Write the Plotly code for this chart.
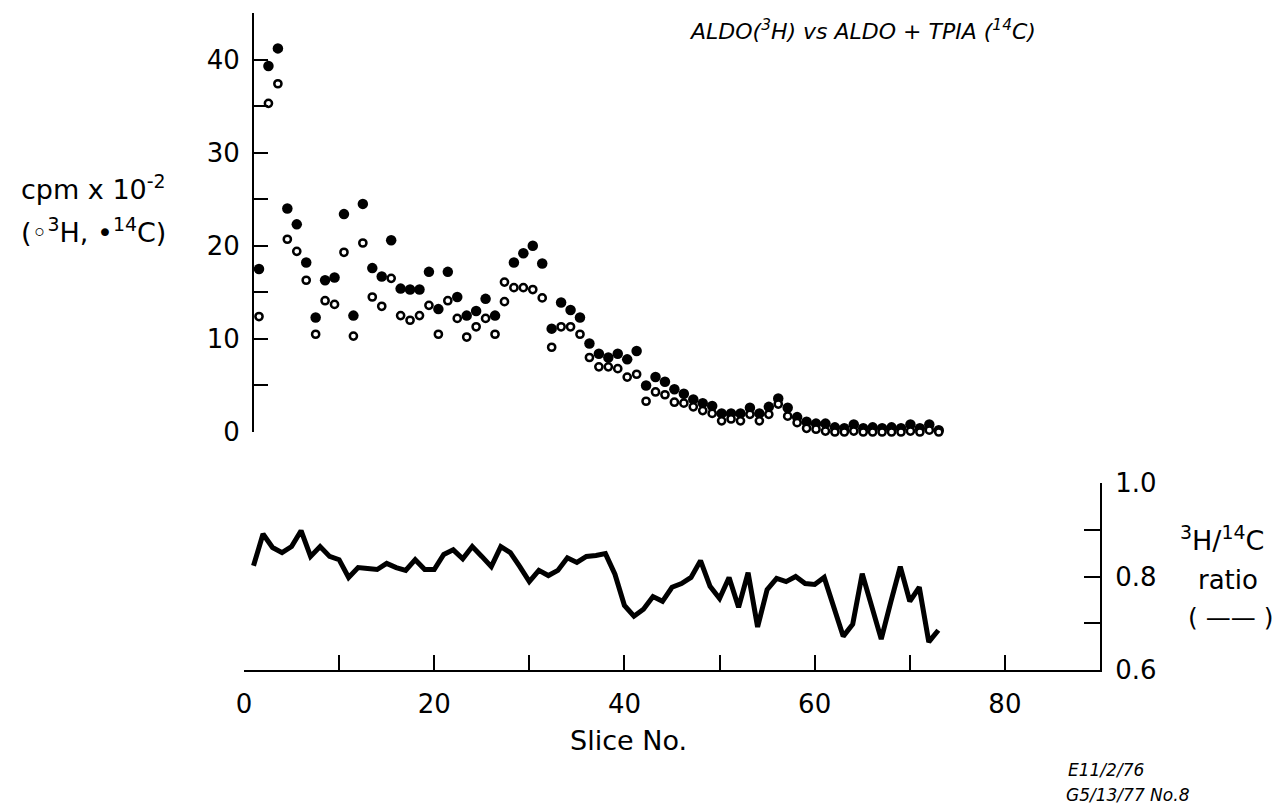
import plotly.graph_objects as go

# Slice numbers and counts (cpm x 10^-2)
slices = list(range(1, 74))

h3_cpm = [12.4, 35.3, 37.4, 20.7, 19.4, 16.3, 10.5, 14.1, 13.7, 19.3,
          10.3, 20.3, 14.5, 13.5, 16.5, 12.5, 12.0, 12.5, 13.6, 10.5,
          14.1, 12.2, 10.2, 11.3, 12.2, 10.5, 14.0, 15.5, 15.5, 15.3,
          14.4, 9.1, 11.3, 11.3, 10.5, 8.0, 7.0, 7.0, 6.8, 5.9,
          6.2, 3.3, 4.3, 4.0, 3.2, 3.1, 2.7, 2.3, 2.0, 1.2,
          1.4, 1.2, 1.9, 1.2, 1.9, 3.0, 1.7, 1.0, 0.4, 0.3,
          0.1, 0.0, 0.0, 0.1, 0.0, 0.0, 0.0, 0.0, 0.0, 0.1,
          0.0, 0.2, 0.0]

c14_cpm = [17.5, 39.3, 41.2, 24.0, 22.3, 18.2, 12.3, 16.3, 16.6, 23.4,
           12.5, 24.5, 17.6, 16.7, 20.6, 15.4, 15.3, 15.3, 17.2, 13.2,
           17.2, 14.5, 12.5, 13.0, 14.3, 12.5, 16.1, 18.2, 19.2, 20.0,
           18.1, 11.1, 13.9, 13.1, 12.3, 9.5, 8.4, 8.0, 8.4, 7.8,
           8.7, 5.0, 5.9, 5.4, 4.6, 4.1, 3.5, 3.1, 2.8, 2.0,
           2.0, 2.0, 2.6, 2.0, 2.7, 3.6, 2.6, 1.6, 1.1, 0.9,
           0.9, 0.5, 0.4, 0.8, 0.4, 0.5, 0.4, 0.5, 0.4, 0.8,
           0.4, 0.8, 0.2]

ratio = [0.823, 0.891, 0.862, 0.851, 0.864, 0.898, 0.843, 0.864, 0.843, 0.836,
         0.798, 0.819, 0.817, 0.815, 0.828, 0.819, 0.813, 0.836, 0.815, 0.815,
         0.847, 0.857, 0.838, 0.864, 0.843, 0.821, 0.864, 0.851, 0.821, 0.789,
         0.813, 0.802, 0.813, 0.840, 0.830, 0.843, 0.845, 0.849, 0.805, 0.738,
         0.715, 0.730, 0.757, 0.747, 0.777, 0.785, 0.798, 0.834, 0.779, 0.753,
         0.798, 0.734, 0.808, 0.692, 0.772, 0.796, 0.789, 0.800, 0.785, 0.783,
         0.798, 0.735, 0.672, 0.698, 0.806, 0.736, 0.666, 0.745, 0.821, 0.747,
         0.777, 0.660, 0.685]

cpm_ticks = [0, 10, 20, 30, 40]
slice_ticks = [0, 20, 40, 60, 80]
ratio_ticks = [0.6, 0.8, 1.0]

W, H = 1283, 805


def fx(p):
    return p / W


def fy(p):
    return 1 - p / H


FONT = "DejaVu Sans"
BLACK = "#000000"

# the 14C point of slice 27 is plotted as an open ring
c14_fill = [BLACK] * len(slices)
c14_fill[26] = "#ffffff"
c14_size = [10.5] * len(slices)
c14_size[26] = 7.2
c14_line = [0] * len(slices)
c14_line[26] = 2.5

fig = go.Figure()

fig.add_trace(go.Scatter(
    x=slices, y=c14_cpm, mode="markers", xaxis="x", yaxis="y",
    marker=dict(symbol="circle", size=c14_size, color=c14_fill, opacity=1,
                line=dict(color=BLACK, width=c14_line)),
    opacity=1, cliponaxis=False, showlegend=False))

fig.add_trace(go.Scatter(
    x=slices, y=h3_cpm, mode="markers", xaxis="x", yaxis="y",
    marker=dict(symbol="circle", size=7.2, color="#ffffff", opacity=1,
                line=dict(color=BLACK, width=2.5)),
    opacity=1, cliponaxis=False, showlegend=False))

fig.add_trace(go.Scatter(
    x=slices, y=ratio, mode="lines", xaxis="x2", yaxis="y2",
    line=dict(color=BLACK, width=5),
    cliponaxis=False, showlegend=False))

axis_common = dict(showgrid=False, zeroline=False, showline=True,
                   linecolor=BLACK, linewidth=2, ticks="inside",
                   tickcolor=BLACK, tickwidth=2, automargin=False,
                   tickfont=dict(family=FONT, size=26, color=BLACK))

fig.update_layout(
    template="none",
    width=W, height=H,
    margin=dict(l=0, r=0, t=0, b=0, pad=0, autoexpand=False),
    paper_bgcolor="white", plot_bgcolor="white",
    xaxis=dict(domain=[fx(254), fx(1100)], range=[0.47, 90.08],
               visible=False, anchor="y", automargin=False),
    yaxis=dict(domain=[fy(432), fy(13)], range=[0, 45], anchor="x",
               tickmode="array", tickvals=cpm_ticks,
               minor=dict(dtick=5, tick0=0, ticks="inside", ticklen=14,
                          tickwidth=2, tickcolor=BLACK, showgrid=False),
               ticklen=14, ticklabelstandoff=7, **axis_common),
    xaxis2=dict(domain=[fx(244), fx(1100)], range=[0, 90], anchor="y2",
                tickmode="array", tickvals=slice_ticks,
                minor=dict(dtick=10, tick0=0, ticks="inside", ticklen=15,
                           tickwidth=2, tickcolor=BLACK, showgrid=False),
                ticklen=15, ticklabelstandoff=10, **axis_common),
    yaxis2=dict(domain=[fy(670), fy(483)], range=[0.6, 1.0], anchor="x2",
                side="right", tickmode="array", tickvals=ratio_ticks,
                tickformat=".1f",
                minor=dict(dtick=0.1, tick0=0.6, ticks="inside", ticklen=16,
                           tickwidth=2, tickcolor=BLACK, showgrid=False),
                ticklen=16, ticklabelstandoff=8, **axis_common),
)


def note(text, x, y, size, xanchor="center", italic=False):
    fig.add_annotation(
        text=f"<i>{text}</i>" if italic else text,
        x=fx(x), y=fy(y), xref="paper", yref="paper",
        xanchor=xanchor, yanchor="middle", showarrow=False,
        font=dict(family=FONT, size=size, color=BLACK))


note("ALDO(<sup>3</sup>H) vs ALDO + TPIA (<sup>14</sup>C)", 862, 30, 22, italic=True)
note("cpm x 10<sup>-2</sup>", 93, 188, 27)
note("(\u25e6<sup>3</sup>H, \u2022<sup>14</sup>C)", 93, 230, 27)
note("<sup>3</sup>H/<sup>14</sup>C", 1222, 538, 27)
note("ratio", 1228, 580, 26)
note("( \u2014\u2014 )", 1230, 617, 25)
note("Slice No.", 628, 740, 27)
note("E11/2/76", 1066, 770, 17, xanchor="left", italic=True)
note("G5/13/77 No.8", 1064, 795, 17, xanchor="left", italic=True)

fig.write_html("out.html")
